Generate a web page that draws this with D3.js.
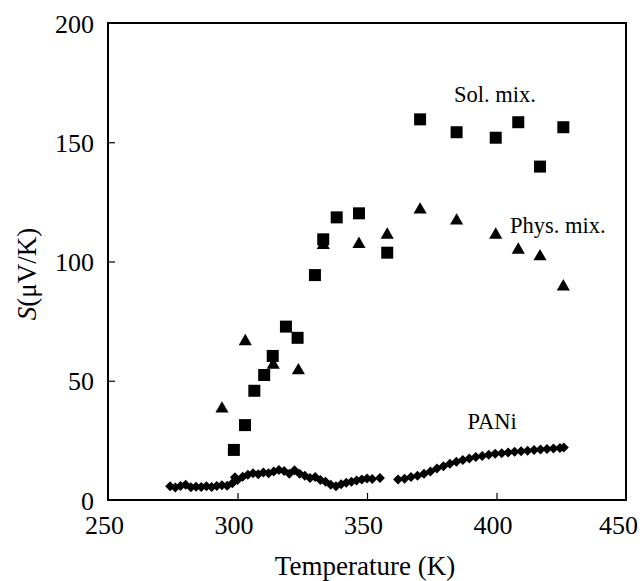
<!DOCTYPE html>
<html>
<head>
<meta charset="utf-8">
<script src="https://cdn.jsdelivr.net/npm/d3@7"></script>
<style>
  html, body { margin: 0; padding: 0; background: #fff; }
  svg { display: block; }
</style>
</head>
<body>
<svg id="chart" width="644" height="581"></svg>
<script>
// ---- Data ----
const xTicks = [250, 300, 350, 400, 450];
const yTicks = [0, 50, 100, 150, 200];

const solMixT = [298.6, 302.9, 306.5, 310.3, 313.6, 318.7, 323.2, 329.9, 333.1, 338.3, 346.9, 357.8, 370.5, 384.6, 399.7, 408.4, 416.8, 425.8];
const solMixS = [21.0, 31.4, 45.8, 52.4, 60.4, 72.7, 68.0, 94.3, 109.3, 118.5, 120.2, 103.7, 159.6, 154.2, 151.9, 158.4, 139.8, 156.3];

const physMixT = [294.0, 303.0, 313.8, 323.5, 333.1, 346.9, 357.8, 370.5, 384.6, 399.7, 408.4, 416.8, 425.8];
const physMixS = [38.9, 67.1, 57.3, 54.9, 107.5, 107.9, 111.8, 122.3, 117.7, 111.8, 105.5, 102.7, 90.1];

const paniT = [274, 276, 278, 280, 282, 284, 286, 288, 290, 292, 294, 296, 298, 299, 300, 302, 304, 306, 308, 310, 312, 314, 316, 318, 320, 322, 324, 326, 328, 330, 332, 334, 336, 338, 340, 342, 344, 346, 348, 350, 352, 355,
               362, 364.5, 367, 369.5, 372, 374.5, 377, 379.5, 382, 384.5, 387, 389.5, 392, 394.5, 397, 399.5, 402, 404.5, 407, 409.5, 412, 414.5, 417, 419.5, 422, 424.5, 426];
const paniS = [5.8, 5.2, 5.9, 6.4, 5.3, 5.6, 5.4, 5.8, 5.5, 5.9, 6.2, 6.0, 7.0, 9.5, 8.4, 9.8, 10.6, 11.2, 10.8, 11.5, 11.2, 12.0, 12.6, 12.2, 11.0, 12.5, 11.0, 10.2, 9.2, 9.6, 8.4, 7.6, 6.4, 5.8, 6.6, 7.2, 7.6, 8.2, 8.6, 9.0, 8.8, 9.2,
               8.6, 8.9, 9.6, 10.2, 11.0, 12.0, 13.2, 14.2, 15.2, 16.0, 16.8, 17.4, 18.0, 18.5, 19.0, 19.4, 19.6, 19.9, 20.2, 20.4, 20.7, 21.0, 21.2, 21.4, 21.6, 21.8, 22.0];

const annotations = [
  { text: "Sol. mix.", T: 383.6, S: 166.9 },
  { text: "Phys. mix.", T: 405.2, S: 111.9 },
  { text: "PANi", T: 388.8, S: 29.8 }
];

// ---- Layout ----
const FONT = "'Liberation Serif', 'Times New Roman', serif";
const svg = d3.select("#chart").style("font-family", FONT);
const mLeft = 108, mRight = 626, mTop = 23, mBottom = 500;

const x = d3.scaleLinear().domain([250, 450]).range([mLeft, mRight]);
const y = d3.scaleLinear().domain([0, 200]).range([mBottom, mTop]);

// Frame
svg.append("rect")
  .attr("x", mLeft).attr("y", mTop)
  .attr("width", mRight - mLeft).attr("height", mBottom - mTop)
  .attr("fill", "none").attr("stroke", "#000").attr("stroke-width", 2);

// Axes (ticks inward)
const xAxis = d3.axisBottom(x).tickValues(xTicks).tickSize(-7).tickPadding(16).tickFormat(d3.format("d"));
const gx = svg.append("g").attr("transform", `translate(0,${mBottom})`).call(xAxis);
gx.attr("font-family", null);
gx.select(".domain").remove();
gx.selectAll(".tick line").attr("stroke", "#000").attr("stroke-width", 1.2);
gx.selectAll(".tick text").attr("font-size", 26).attr("dy", "0.71em")
  .attr("dx", d => d === 450 ? -8 : -4)
  .attr("fill", "#000").style("font-family", FONT);

const yAxis = d3.axisLeft(y).tickValues(yTicks).tickSize(-7).tickPadding(14).tickFormat(d3.format("d"));
const gy = svg.append("g").attr("transform", `translate(${mLeft},0)`).call(yAxis);
gy.attr("font-family", null);
gy.select(".domain").remove();
gy.selectAll(".tick line").attr("stroke", "#000").attr("stroke-width", 1.2);
gy.selectAll(".tick text").attr("font-size", 26).attr("dy", "0.35em")
  .attr("fill", "#000").style("font-family", FONT);
gx.selectAll(".tick").filter(d => d === 250 || d === 450).select("line").remove();
gy.selectAll(".tick").filter(d => d === 0 || d === 200).select("line").remove();

// Axis titles
svg.append("text")
  .attr("x", (mLeft + mRight) / 2 - 2).attr("y", 575)
  .attr("text-anchor", "middle").attr("font-size", 27)
  .style("font-family", FONT)
  .text("Temperature (K)");

const yt = svg.append("text")
  .attr("transform", "translate(36,274) rotate(-90)")
  .attr("text-anchor", "middle").attr("font-size", 27)
  .style("font-family", FONT);
yt.append("tspan").attr("font-style", "italic").text("S");
yt.append("tspan").text("(μV/K)");

// Marks
const sym = (type, size) => d3.symbol().type(type).size(size)();

svg.append("g").selectAll("path")
  .data(paniT.map((t, i) => [t, paniS[i]]))
  .join("path")
  .attr("d", sym(d3.symbolSquare, 50))
  .attr("transform", d => `translate(${x(d[0])},${y(d[1])}) rotate(45)`)
  .attr("fill", "#000");

svg.append("g").selectAll("path")
  .data(physMixT.map((t, i) => [t, physMixS[i]]))
  .join("path")
  .attr("d", sym(d3.symbolTriangle, 75))
  .attr("transform", d => `translate(${x(d[0])},${y(d[1]) + 1.5})`)
  .attr("fill", "#000");

svg.append("g").selectAll("path")
  .data(solMixT.map((t, i) => [t, solMixS[i]]))
  .join("path")
  .attr("d", sym(d3.symbolSquare, 144))
  .attr("transform", d => `translate(${x(d[0])},${y(d[1])})`)
  .attr("fill", "#000");

// Annotations
svg.append("g").selectAll("text")
  .data(annotations)
  .join("text")
  .attr("x", d => x(d.T)).attr("y", d => y(d.S))
  .attr("font-size", 22.5)
  .style("font-family", FONT)
  .text(d => d.text);
</script>
</body>
</html>
